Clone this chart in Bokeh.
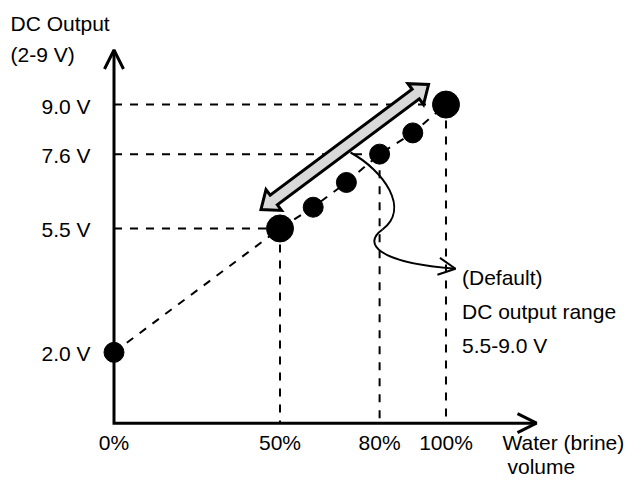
import numpy as np
from bokeh.plotting import figure
from bokeh.models import Arrow, OpenHead, Range1d
from bokeh.core.properties import value
from bokeh.embed import file_html
from bokeh.resources import INLINE

# ---------------- data ----------------
volume_pct = [0, 50, 60, 70, 80, 90, 100]
output_v = [2.0, 5.5, 6.1, 6.8, 7.6, 8.2, 9.0]
marker_kind = ["small", "large", "small", "small", "small", "small", "large"]

y_ticks = [2.0, 5.5, 7.6, 9.0]
y_tick_labels = ["2.0 V", "5.5 V", "7.6 V", "9.0 V"]
x_ticks = [0, 50, 80, 100]
x_tick_labels = ["0%", "50%", "80%", "100%"]

guide_pct = [50, 80, 100]
guide_v = [5.5, 7.6, 9.0]

default_range_pct = [50, 100]
default_range_v = [5.5, 9.0]

y_title = ["DC Output", "(2-9 V)"]
x_title = ["Water (brine)", "volume"]
note_lines = ["(Default)", "DC output range", "5.5-9.0 V"]

# ---------------- scales (page pixels <-> data) ----------------
W, H, M = 628, 480, 0
X0, XS = 113.5, 3.32      # page px of 0 %, px per %
Y0, YS = 422.64, 35.396   # page px of 0 V, px per V


def sx2d(X):
    return (X - X0) / XS


def sy2d(Y):
    return (Y0 - Y) / YS


def d2sx(x):
    return X0 + XS * x


def d2sy(v):
    return Y0 - YS * v


p = figure(width=W, height=H,
           x_range=Range1d(sx2d(M), sx2d(M + W)),
           y_range=Range1d(sy2d(M + H), sy2d(M)),
           output_backend="svg", toolbar_location=None,
           x_axis_location=None, y_axis_location=None, min_border=0)
p.grid.visible = False
p.outline_line_color = None
p.background_fill_color = "white"
p.border_fill_color = "white"

FONT = value("Liberation Sans")
FS = "21px"
DASH = "8 8"

# ---------------- dashed guides ----------------
p.segment(x0=[0] * len(guide_v), y0=guide_v, x1=guide_pct, y1=guide_v,
          line_color="black", line_width=2, line_dash=DASH)
p.segment(x0=guide_pct, y0=guide_v, x1=guide_pct, y1=[0] * len(guide_v),
          line_color="black", line_width=2, line_dash=DASH)
p.line(volume_pct, output_v, line_color="black", line_width=2, line_dash=DASH)

# ---------------- axes with arrow heads ----------------
y_top = sy2d(49.5)
x_end = sx2d(536)
p.line([0, 0, x_end], [y_top, 0, 0], line_color="black", line_width=3,
       line_join="miter")
p.add_layout(Arrow(x_start=0, y_start=y_top - 1, x_end=0, y_end=y_top,
                   line_alpha=0,
                   end=OpenHead(size=19, line_width=3, line_color="black")))
p.add_layout(Arrow(x_start=x_end - 1, y_start=0, x_end=x_end, y_end=0,
                   line_alpha=0,
                   end=OpenHead(size=19, line_width=3, line_color="black")))

# ---------------- gray double arrow (parallel to default range) ----------------
A0 = np.array([d2sx(default_range_pct[0]), d2sy(default_range_v[0])])
A1 = np.array([d2sx(default_range_pct[1]), d2sy(default_range_v[1])])
u = (A1 - A0) / np.linalg.norm(A1 - A0)
n = np.array([u[1], -u[0]])
off, ext_lo, ext_hi = 26.5, 4.0, -2.0
hl, hw, sw = 16.0, 13.0, 6.0
T0 = A0 + n * off - u * ext_lo
T1 = A1 + n * off + u * ext_hi
pts = [T0, T0 + u * hl + n * hw, T0 + u * hl + n * sw,
       T1 - u * hl + n * sw, T1 - u * hl + n * hw, T1,
       T1 - u * hl - n * hw, T1 - u * hl - n * sw,
       T0 + u * hl - n * sw, T0 + u * hl - n * hw]
p.patch([sx2d(q[0]) for q in pts], [sy2d(q[1]) for q in pts],
        fill_color="#d9d9d9", line_color="black", line_width=3,
        line_join="miter")

# ---------------- data points ----------------
sizes = [27 if k == "large" else 20 for k in marker_kind]
p.scatter(volume_pct, output_v, size=sizes, fill_color="black",
          line_color="black")

# ---------------- curved pointer ----------------
seg = [((350, 152), (383, 170), (410, 208), (382, 229)),
       ((382, 229), (362, 243), (376, 262), (455, 268.3))]
p.bezier(x0=[sx2d(s[0][0]) for s in seg], y0=[sy2d(s[0][1]) for s in seg],
         x1=[sx2d(s[3][0]) for s in seg], y1=[sy2d(s[3][1]) for s in seg],
         cx0=[sx2d(s[1][0]) for s in seg], cy0=[sy2d(s[1][1]) for s in seg],
         cx1=[sx2d(s[2][0]) for s in seg], cy1=[sy2d(s[2][1]) for s in seg],
         line_color="black", line_width=2)
tip = seg[-1][3]
p.add_layout(Arrow(x_start=sx2d(tip[0] - 16.7), y_start=sy2d(tip[1] - 2.5),
                   x_end=sx2d(tip[0]), y_end=sy2d(tip[1]), line_alpha=0,
                   end=OpenHead(size=17, line_width=2, line_color="black")))

# ---------------- texts (anchored at their vertical middle) ----------------
txt = dict(text_font=FONT, text_font_size=FS, text_color="black",
           text_baseline="middle")
# y tick labels
p.text(x=[sx2d(90)] * len(y_ticks), y=[sy2d(d2sy(v) + 1.5) for v in y_ticks],
       text=y_tick_labels, text_align="right", **txt)
# x tick labels
p.text(x=x_ticks, y=[sy2d(441.5)] * len(x_ticks), text=x_tick_labels,
       text_align="center", **txt)
# axis titles
p.text(x=[sx2d(10)] * 2, y=[sy2d(22.5), sy2d(54)], text=y_title,
       text_align="left", **txt)
p.text(x=[sx2d(502), sx2d(507)], y=[sy2d(441.5), sy2d(466)], text=x_title,
       text_align="left", **txt)
# annotation
p.text(x=[sx2d(461.5)] * 3, y=[sy2d(276.5), sy2d(310.5), sy2d(344.5)],
       text=note_lines, text_align="left", **txt)

open("out.html", "w").write(file_html(p, INLINE))
